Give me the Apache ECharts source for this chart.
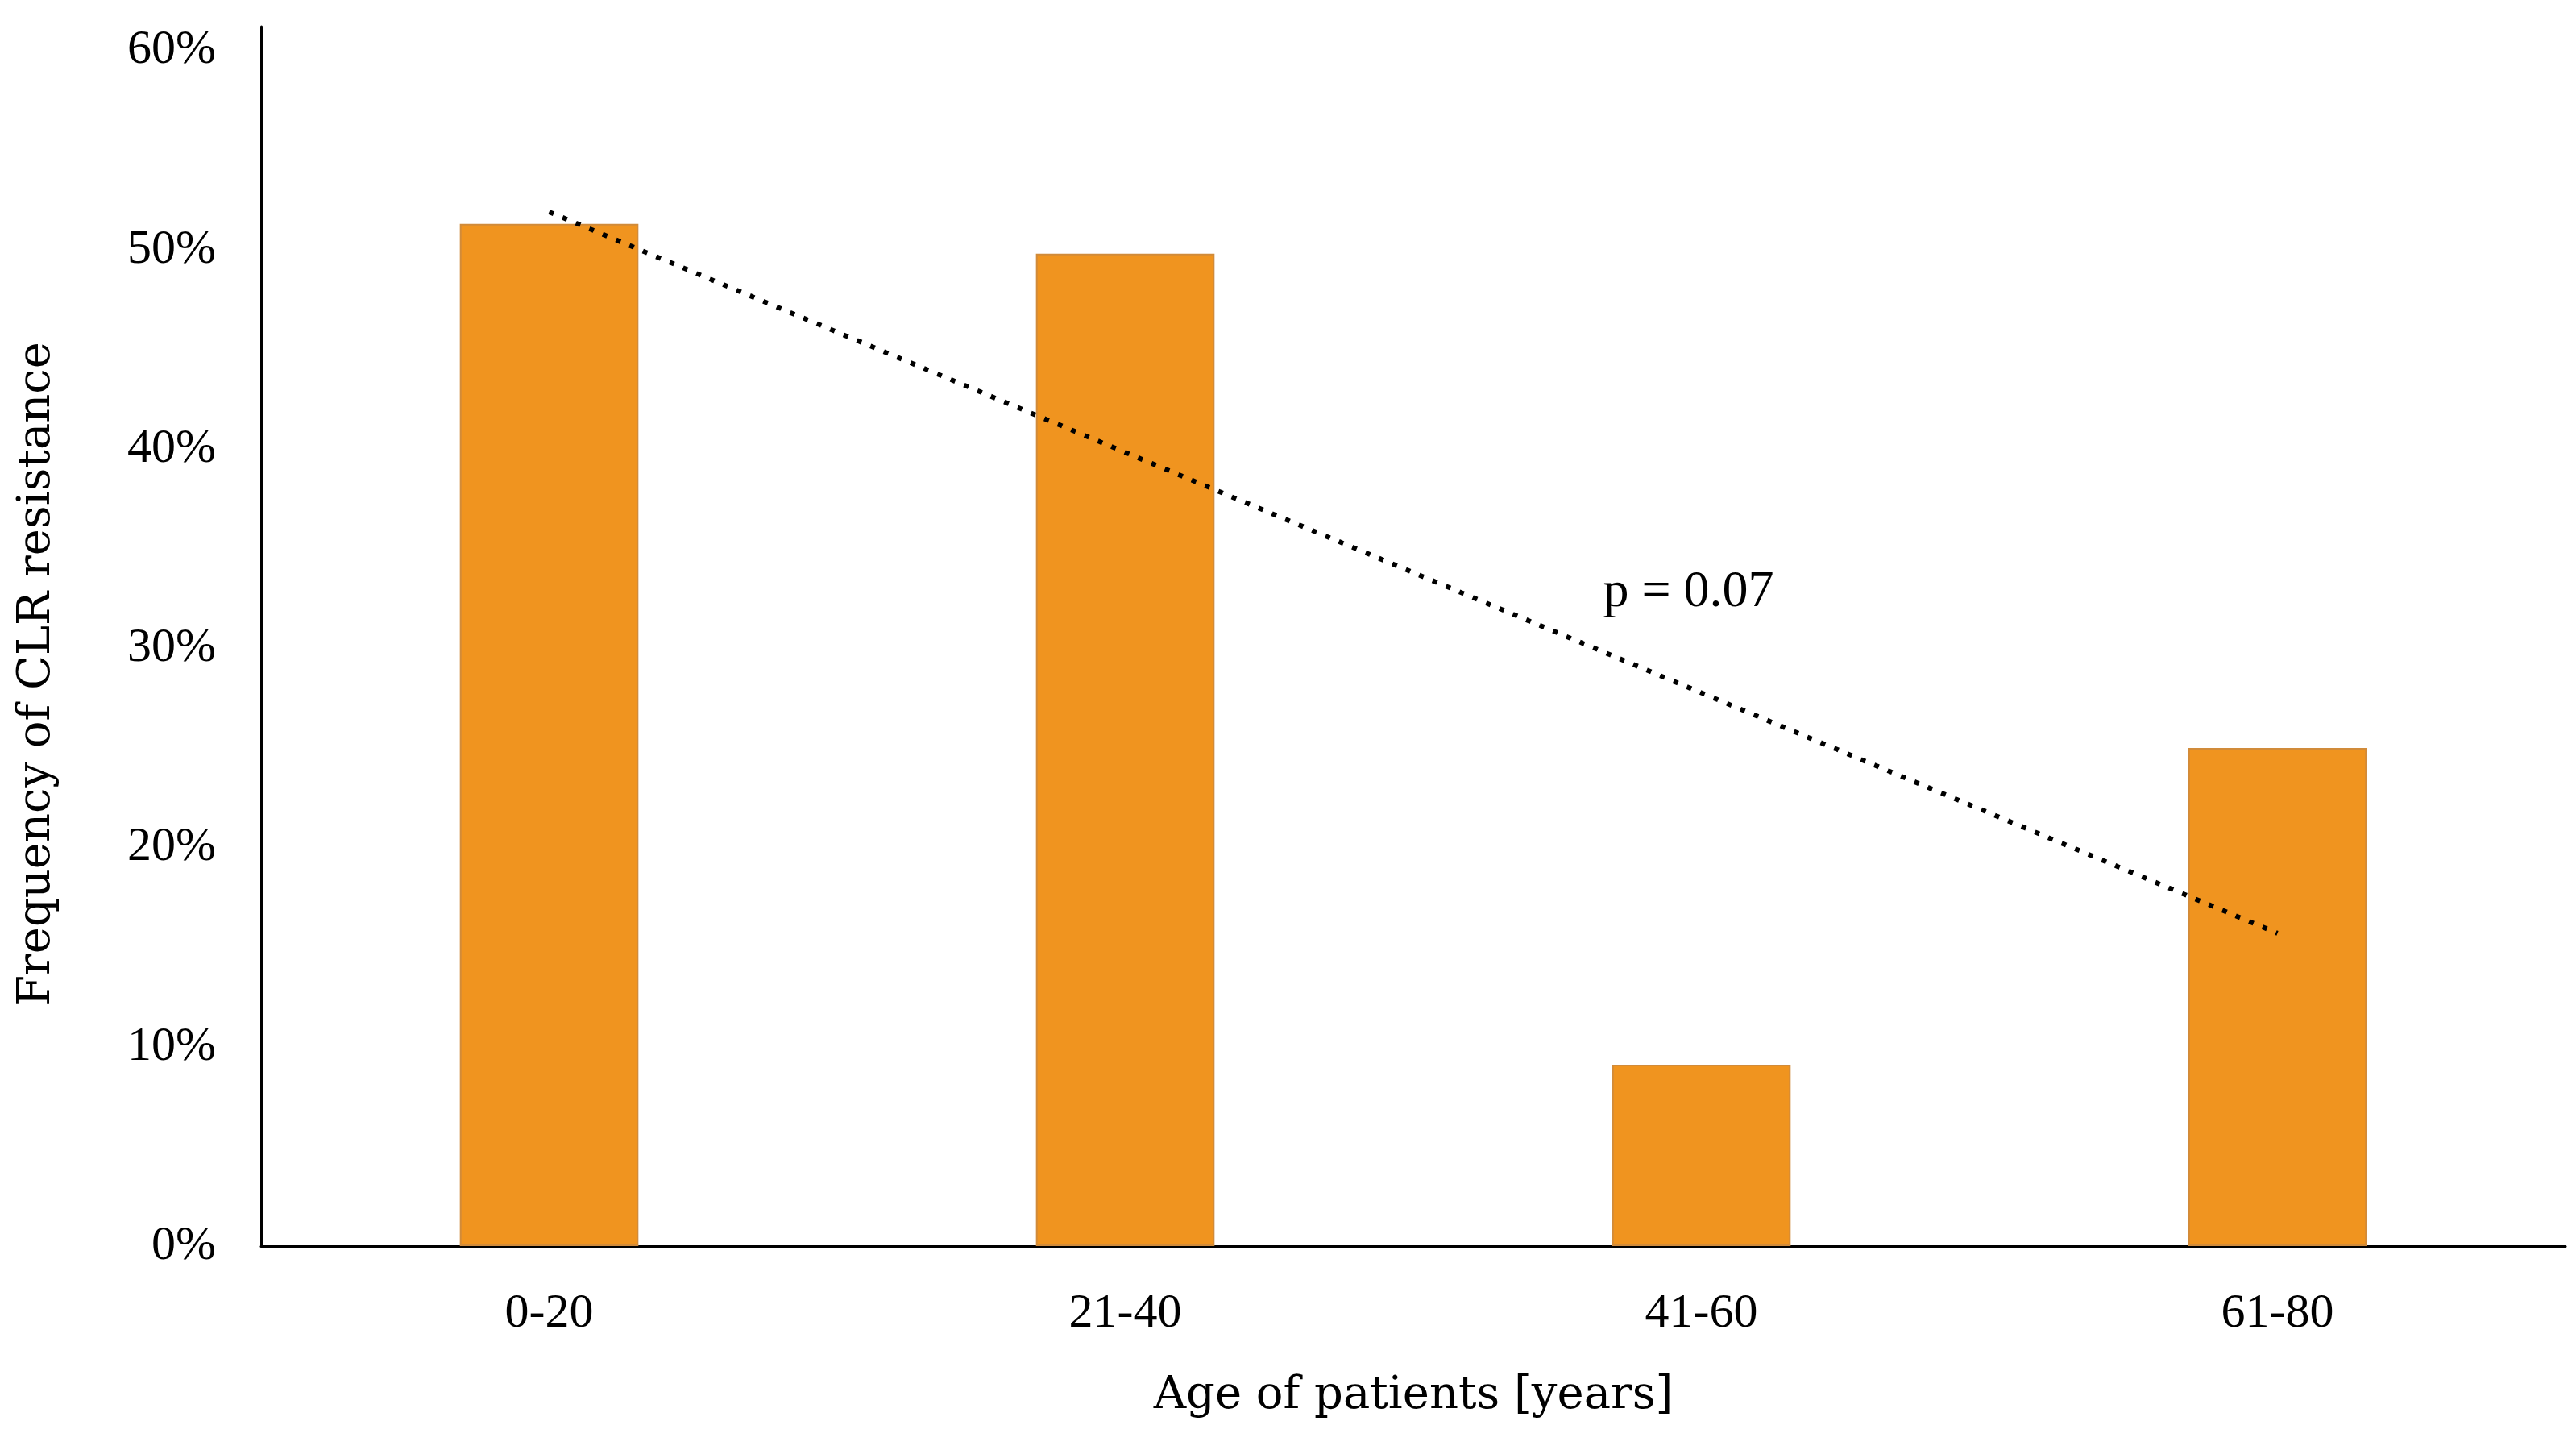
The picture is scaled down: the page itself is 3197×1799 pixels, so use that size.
<!DOCTYPE html>
<html>
<head>
<meta charset="utf-8">
<script src="https://cdn.jsdelivr.net/npm/echarts@6/dist/echarts.min.js"></script>
<style>html,body{margin:0;padding:0;background:#fff}#c{width:3197px;height:1799px}</style>
</head>
<body>
<div id="c"></div>
<script>
const categories = ['0-20', '21-40', '41-60', '61-80'];
const resistance = [51.3, 49.8, 9.1, 25.0];
const trendEnds = [51.9, null, null, 15.7];
const yTicks = [0, 10, 20, 30, 40, 50, 60];
const annotation = { text: 'p = 0.07', category: '41-60', value: 32.8 };

const FONT = 'Liberation Serif';
const NAME_FONT = 'DejaVu Serif';
const chart = echarts.init(document.getElementById('c'), null, { renderer: 'canvas' });
chart.setOption({
  animation: false,
  backgroundColor: '#ffffff',
  grid: { left: 324, right: 13, top: 33, bottom: 253, containLabel: false },
  xAxis: {
    type: 'category',
    data: categories,
    axisLine: { lineStyle: { color: '#000', width: 3 } },
    axisTick: { show: false },
    axisLabel: { fontFamily: FONT, fontSize: 60, color: '#000', margin: 54 },
    name: 'Age of patients [years]',
    nameLocation: 'middle',
    nameGap: 158,
    nameTextStyle: { fontFamily: NAME_FONT, fontSize: 56, color: '#000' }
  },
  yAxis: {
    type: 'value',
    min: 0,
    max: 61.2,
    interval: 10,
    splitLine: { show: false },
    axisLine: { show: true, lineStyle: { color: '#000', width: 3 } },
    axisTick: { show: false },
    axisLabel: {
      fontFamily: FONT, fontSize: 60, color: '#000', margin: 56,
      formatter: v => (yTicks.indexOf(Math.round(v * 1000) / 1000) >= 0 ? v + '%' : '')
    },
    name: 'Frequency of CLR resistance',
    nameLocation: 'middle',
    nameGap: 250,
    nameRotate: 90,
    nameTextStyle: { fontFamily: NAME_FONT, fontSize: 56, color: '#000', padding: [0, 94, 0, 0] }
  },
  series: [
    {
      type: 'bar',
      data: resistance,
      barWidth: '31%',
      itemStyle: { color: '#F0941F', borderColor: '#D18B3A', borderWidth: 2 },
      z: 2
    },
    {
      type: 'line',
      data: trendEnds,
      connectNulls: true,
      symbol: 'none',
      lineStyle: { color: '#000', width: 6, type: [6, 12] },
      z: 3,
      markPoint: {
        symbol: 'circle',
        symbolSize: 0,
        data: [{ coord: [annotation.category, annotation.value] }],
        label: {
          show: true, position: 'inside', formatter: annotation.text,
          fontFamily: FONT, fontSize: 64, color: '#000', offset: [-16, 0]
        }
      }
    }
  ]
});
</script>
</body>
</html>
